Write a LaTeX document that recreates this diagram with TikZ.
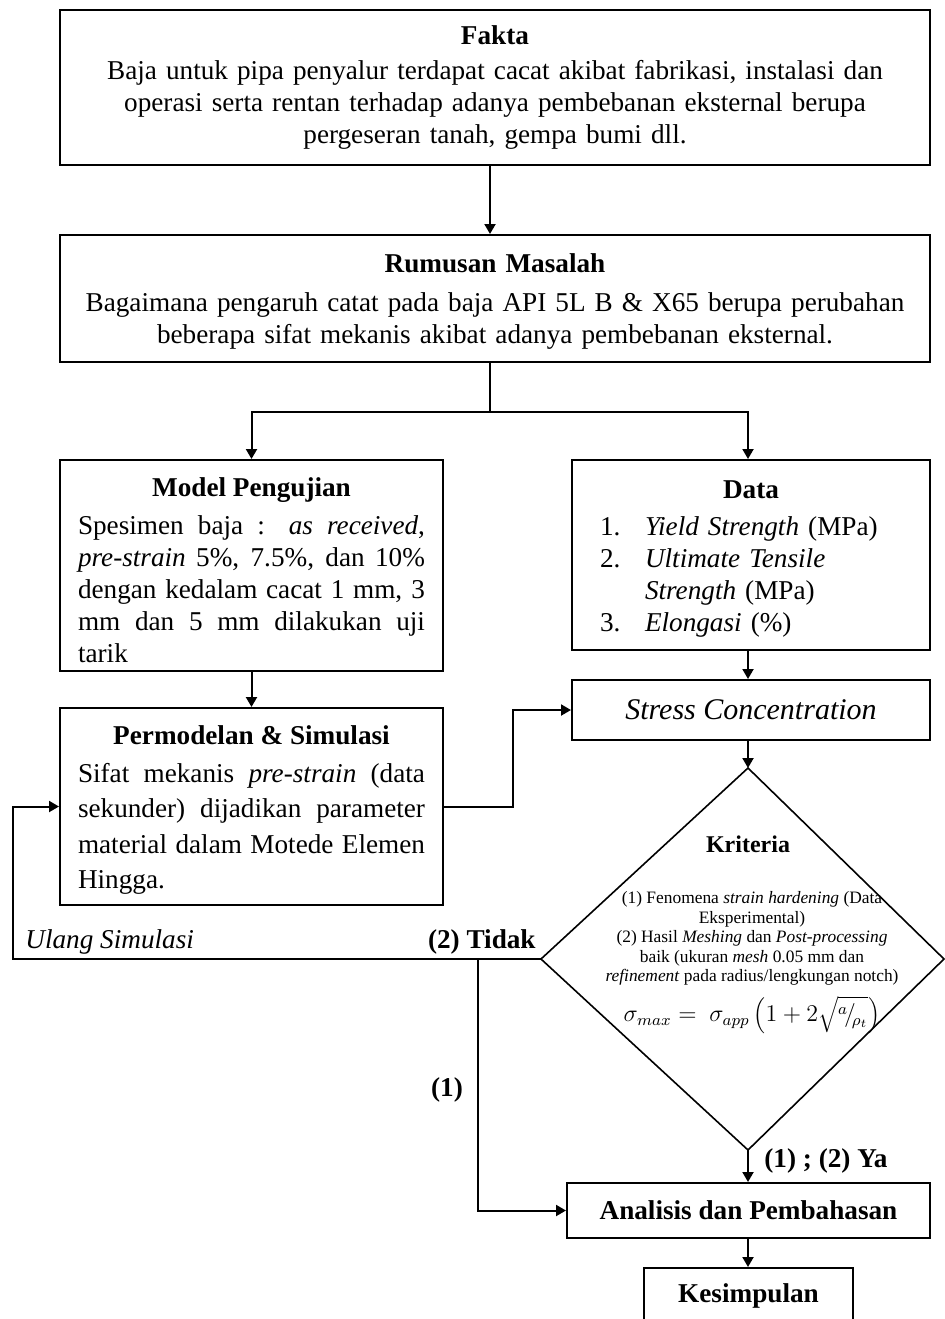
\documentclass[tikz,border=0pt]{standalone}
\usepackage{fontspec}
\setmainfont{Liberation Serif}
\usetikzlibrary{arrows.meta,calc}
\newcommand\mainsz{\fontsize{13.6}{16}\selectfont}
\begin{document}
\begin{tikzpicture}[x=0.5pt,y=-0.5pt]
\tikzset{
  box/.style={draw, line width=1pt, rectangle, inner sep=0pt, font=\mainsz},
  arr/.style={line width=1pt, -{Triangle[length=5pt,width=5.5pt]}},
  ln/.style={line width=1pt},
  lbl/.style={inner sep=0pt, font=\mainsz},
}
\clip (0,0) rectangle (945,1319);
\useasboundingbox (0,0) rectangle (945,1319);

\node[box, minimum width=435pt, minimum height=77.5pt, text width=425pt, align=center] (fakta) at (495,87.5)
 {{\bfseries Fakta}\\[1.5pt]
  Baja untuk pipa penyalur terdapat cacat akibat fabrikasi, instalasi dan\\
  operasi serta rentan terhadap adanya pembebanan eksternal berupa\\
  pergeseran tanah, gempa bumi dll.};

\node[box, minimum width=435pt, minimum height=63.5pt, text width=425pt, align=center] (rumusan) at (495,298.5)
 {\rule{0pt}{12.5pt}{\bfseries Rumusan Masalah}\\[3.5pt]
  Bagaimana pengaruh catat pada baja API 5L B \& X65 berupa perubahan\\
  beberapa sifat mekanis akibat adanya pembebanan eksternal.};

\node[box, minimum width=191.5pt, minimum height=105.5pt, text width=173.5pt, align=justify] (model) at (251.5,565.5)
 {\rule{0pt}{14.5pt}\makebox[\linewidth]{\bfseries Model Pengujian}\\[3pt]
  Spesimen baja : \textit{as received},\linebreak
  \textit{pre-strain} 5\%, 7.5\%, dan 10\%\linebreak
  dengan kedalam cacat 1 mm, 3\linebreak
  mm dan 5 mm dilakukan uji\linebreak
  tarik};

\node[box, minimum width=179pt, minimum height=95pt, text width=151pt, align=left] (data) at (751,555)
 {\rule{0pt}{12.5pt}\makebox[\linewidth]{\bfseries Data}\\[2.5pt]
  \makebox[22.5pt][l]{1.}\textit{Yield Strength} (MPa)\\
  \makebox[22.5pt][l]{2.}\textit{Ultimate Tensile}\\
  \hspace*{22.5pt}\textit{Strength} (MPa)\\
  \makebox[22.5pt][l]{3.}\textit{Elongasi} (\%)};

\node[box, minimum width=179pt, minimum height=30pt, font=\fontsize{15}{18}\selectfont] (stress) at (751,710) {\textit{Stress Concentration}};

\node[box, minimum width=191.5pt, minimum height=98.5pt] (perm) at (251.5,806.5) {};
\node[inner sep=0pt, anchor=north, font=\fontsize{13.6}{17.75}\selectfont, text width=173.5pt, align=justify] (permtxt) at (251.5,725)
 {\makebox[\linewidth]{\bfseries Permodelan \& Simulasi}\\[1.25pt]
  Sifat mekanis \textit{pre-strain} (data\linebreak
  sekunder) dijadikan parameter\linebreak
  material dalam Motede Elemen\linebreak
  Hingga.};

% decision diamond
\coordinate (kt) at (748,768);
\coordinate (kr) at (944,959);
\coordinate (kb) at (748,1150);
\coordinate (kl) at (541,959);
\draw[line width=0.8pt] (kt) -- (kr) -- (kb) -- (kl) -- cycle;
\node[lbl, font=\fontsize{12}{16}\selectfont\bfseries] (krit) at (748,844) {Kriteria};
\node[inner sep=0pt, font=\fontsize{8.7}{9.8}\selectfont, align=center] (kritd) at (752,938.5)
 {(1) Fenomena \textit{strain hardening} (Data\\
  Eksperimental)\\
  (2) Hasil \textit{Meshing} dan \textit{Post-processing}\\
  baik (ukuran \textit{mesh} 0.05 mm dan\\
  \textit{refinement} pada radius/lengkungan notch)};
\node[inner sep=0pt, font=\fontsize{12}{14}\selectfont] (form) at (752,1015)
 {$\sigma_{max} =\ \sigma_{app}\left(1+2\sqrt{{}^{a}\!/\!{}_{\rho_t}}\right)$};

\node[box, minimum width=181.5pt, minimum height=27.5pt, font=\mainsz\bfseries] (analisis) at (748.5,1210.5) {Analisis dan Pembahasan};
\node[box, minimum width=104.5pt, minimum height=28pt, font=\mainsz\bfseries] (kesimpulan) at (748.5,1296) {Kesimpulan};

% labels
\node[lbl, anchor=east, font=\mainsz\bfseries] (tidak) at (536,942) {(2) Tidak};
\node[lbl, anchor=west, font=\mainsz\itshape] (ulang) at (25,942) {Ulang Simulasi};
\node[lbl, font=\mainsz\bfseries] (satu) at (447,1090) {(1)};
\node[lbl, anchor=west, font=\mainsz\bfseries] (ya) at (764,1161) {(1) ; (2) Ya};

% connectors
\coordinate (j) at (490,412);
\coordinate (ul) at (13,959);
\coordinate (br) at (478,959);
\draw[arr] (fakta.south -| j) -- (rumusan.north -| j);
\draw[ln] (rumusan.south -| j) -- (j);
\draw[arr] (j) -| (model.north);
\draw[arr] (j) -| (data.north -| kt);
\draw[arr] (data.south -| kt) -- (stress.north -| kt);
\draw[arr] (model.south) -- (perm.north);
\draw[arr] (perm.east) -- ++(69,0) |- (stress.west);
\draw[arr] (stress.south -| kt) -- (kt);
\draw[arr] (kl) -- (ul) |- (perm.west);
\draw[arr] (br) |- (analisis.west);
\draw[arr] (kb) -- (analisis.north -| kb);
\draw[arr] (analisis.south -| kb) -- (kesimpulan.north -| kb);
\end{tikzpicture}
\end{document}
